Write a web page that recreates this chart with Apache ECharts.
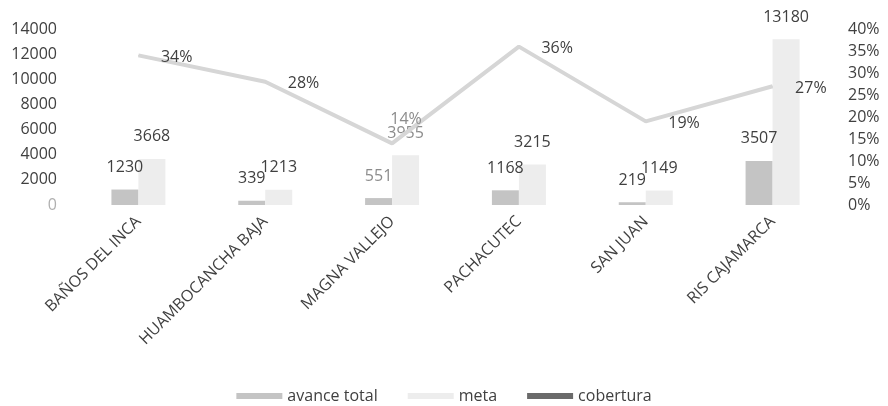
<!DOCTYPE html>
<html>
<head>
<meta charset="utf-8">
<script src="https://cdn.jsdelivr.net/npm/echarts@6/dist/echarts.min.js"></script>
<style>
  html, body { margin: 0; padding: 0; background: #fff; }
  #chart { width: 888px; height: 406px; }
</style>
</head>
<body>
<div id="chart"></div>
<script>
// Establecimientos
const categorias = ['BAÑOS DEL INCA', 'HUAMBOCANCHA BAJA', 'MAGNA VALLEJO', 'PACHACUTEC', 'SAN JUAN', 'RIS CAJAMARCA'];
// Avance total y meta por establecimiento
const avanceTotal = [1230, 339, 551, 1168, 219, 3507];
const meta = [3668, 1213, 3955, 3215, 1149, 13180];
// Cobertura (fracción)
const cobertura = [0.34, 0.28, 0.14, 0.36, 0.19, 0.27];

const FONT = '"Open Sans", "Noto Sans", sans-serif';
const TXT = '#404040';
const TXT_SOFT = '#8c8c8c';

const chart = echarts.init(document.getElementById('chart'));

// Etiquetas de MAGNA VALLEJO en tono más suave
const soft = (arr) => arr.map((v, i) => i === 2 ? { value: v, label: { color: TXT_SOFT } } : v);

chart.setOption({
  animation: false,
  textStyle: { fontFamily: FONT },
  grid: { left: 75, right: 52, top: 29, bottom: 201 },
  legend: {
    bottom: -3,
    left: 'center',
    itemWidth: 46,
    itemHeight: 6,
    itemGap: 30,
    textStyle: { fontSize: 16, color: TXT, fontFamily: FONT },
    data: [
      { name: 'avance total', icon: 'rect' },
      { name: 'meta', icon: 'rect' },
      { name: 'cobertura', icon: 'rect', itemStyle: { color: '#6a6a6a' } }
    ]
  },
  xAxis: {
    type: 'category',
    data: categorias,
    axisLine: { show: false },
    axisTick: { show: false },
    axisLabel: {
      rotate: 45,
      margin: 14,
      fontSize: 16,
      color: TXT,
      fontFamily: FONT,
      interval: 0
    }
  },
  yAxis: [
    {
      type: 'value',
      min: 0, max: 14000, interval: 2000,
      splitLine: { show: false },
      axisLine: { show: false },
      axisTick: { show: false },
      axisLabel: {
        fontSize: 16, color: TXT, fontFamily: FONT, margin: 18,
        formatter: v => v === 0 ? '{z|0}' : String(v),
        rich: { z: { color: '#b0b0b0', fontSize: 16, fontFamily: FONT } }
      }
    },
    {
      type: 'value',
      min: 0, max: 0.4, interval: 0.05,
      splitLine: { show: false },
      axisLine: { show: false },
      axisTick: { show: false },
      axisLabel: {
        fontSize: 16, color: TXT, fontFamily: FONT, margin: 12,
        formatter: v => Math.round(v * 100) + '%'
      }
    }
  ],
  series: [
    {
      name: 'avance total',
      type: 'bar',
      data: soft(avanceTotal),
      barWidth: 27,
      barGap: '0%',
      itemStyle: { color: '#c4c4c4' },
      label: {
        show: true, position: 'top', distance: 14,
        fontSize: 16, color: TXT, fontFamily: FONT
      }
    },
    {
      name: 'meta',
      type: 'bar',
      data: soft(meta),
      barWidth: 27,
      barGap: '0%',
      itemStyle: { color: '#ededed' },
      label: {
        show: true, position: 'top', distance: 14,
        fontSize: 16, color: TXT, fontFamily: FONT
      }
    },
    {
      name: 'cobertura',
      type: 'line',
      yAxisIndex: 1,
      data: cobertura.map((v, i) => i === 2
        ? { value: v, label: { position: 'top', distance: 5, offset: [14, -10], color: TXT_SOFT } }
        : v),
      showSymbol: true,
      symbol: 'circle',
      symbolSize: 1,
      itemStyle: { color: '#d6d6d6' },
      lineStyle: { color: '#d6d6d6', width: 4 },
      label: {
        show: true, position: 'right', distance: 22, offset: [0, 2],
        fontSize: 16, color: TXT, fontFamily: FONT,
        formatter: p => Math.round(p.value * 100) + '%'
      },
      z: 3
    }
  ]
});
</script>
</body>
</html>
